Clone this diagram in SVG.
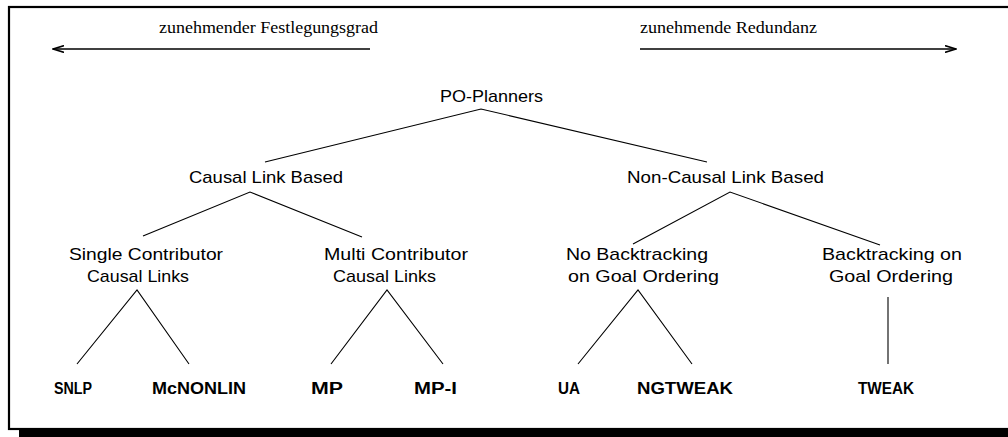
<svg xmlns="http://www.w3.org/2000/svg" width="1008" height="437" viewBox="0 0 1008 437">
  <style>
    .frame { fill: none; stroke: #000; stroke-width: 2.2; }
    .edge { stroke: #000; stroke-width: 1.1; fill: none; }
    .axis { stroke: #000; stroke-width: 1.6; fill: none; }
    .lbl { font-family: "Liberation Sans", Arial, sans-serif; font-size: 17px; fill: #000; text-anchor: start; }
    .leaf { font-family: "Liberation Sans", Arial, sans-serif; font-size: 16px; font-weight: bold; fill: #000; }
    .note { font-family: "Liberation Serif", "Times New Roman", serif; font-size: 16px; fill: #000; }
  </style>
  <defs>
    <marker id="head" viewBox="0 0 12 8" refX="11" refY="4" markerWidth="12" markerHeight="8" markerUnits="userSpaceOnUse" orient="auto">
      <polyline points="0,0.6 11,4 0,7.4" fill="none" stroke="#000" stroke-width="1.6"/>
    </marker>
  </defs>

  <rect x="0" y="0" width="1008" height="437" fill="#fff"/>

  <!-- page frame with drop shadow -->
  <g id="frame">
    <rect class="frame" x="9" y="7" width="1010" height="422"/>
    <rect x="19" y="430" width="1000" height="10" fill="#000"/>
  </g>

  <!-- direction axes -->
  <g id="axes">
    <line class="axis" x1="370" y1="49" x2="53" y2="49" marker-end="url(#head)"/>
    <line class="axis" x1="640" y1="49" x2="956" y2="49" marker-end="url(#head)"/>
    <text class="note" x="159" y="33" textLength="219" lengthAdjust="spacingAndGlyphs">zunehmender Festlegungsgrad</text>
    <text class="note" x="640" y="33" textLength="177" lengthAdjust="spacingAndGlyphs">zunehmende Redundanz</text>
  </g>

  <!-- connectors -->
  <g id="connectors">
    <polyline class="edge" points="265,162 481,109 707,162"/>
    <polyline class="edge" points="143,236 250,192 362,237"/>
    <polyline class="edge" points="633,244 730,192 880,245"/>
    <polyline class="edge" points="77,364 137,290 189,364"/>
    <polyline class="edge" points="331,364 387,290 443,364"/>
    <polyline class="edge" points="578,364 638,290 692,364"/>
    <line class="edge" x1="888" y1="297" x2="888" y2="364"/>
  </g>

  <g id="po-planners">
    <text class="lbl" x="440" y="102" textLength="103" lengthAdjust="spacingAndGlyphs">PO-Planners</text>
  </g>
  <g id="causal-link-based">
    <text class="lbl" x="189" y="183" textLength="154" lengthAdjust="spacingAndGlyphs">Causal Link Based</text>
  </g>
  <g id="non-causal-link-based">
    <text class="lbl" x="627" y="183" textLength="197" lengthAdjust="spacingAndGlyphs">Non-Causal Link Based</text>
  </g>
  <g id="single-contributor">
    <text class="lbl" x="69" y="260" textLength="154" lengthAdjust="spacingAndGlyphs">Single Contributor</text>
    <text class="lbl" x="87" y="282" textLength="102" lengthAdjust="spacingAndGlyphs">Causal Links</text>
  </g>
  <g id="multi-contributor">
    <text class="lbl" x="324" y="260" textLength="144" lengthAdjust="spacingAndGlyphs">Multi Contributor</text>
    <text class="lbl" x="333" y="282" textLength="103" lengthAdjust="spacingAndGlyphs">Causal Links</text>
  </g>
  <g id="no-backtracking">
    <text class="lbl" x="566" y="260" textLength="142" lengthAdjust="spacingAndGlyphs">No Backtracking</text>
    <text class="lbl" x="568" y="282" textLength="151" lengthAdjust="spacingAndGlyphs">on Goal Ordering</text>
  </g>
  <g id="backtracking">
    <text class="lbl" x="822" y="260" textLength="140" lengthAdjust="spacingAndGlyphs">Backtracking on</text>
    <text class="lbl" x="829" y="282" textLength="124" lengthAdjust="spacingAndGlyphs">Goal Ordering</text>
  </g>

  <g id="snlp"><text class="leaf" x="54" y="394" textLength="38" lengthAdjust="spacingAndGlyphs">SNLP</text></g>
  <g id="mcnonlin"><text class="leaf" x="152" y="394" textLength="94" lengthAdjust="spacingAndGlyphs">McNONLIN</text></g>
  <g id="mp"><text class="leaf" x="311" y="394" textLength="32" lengthAdjust="spacingAndGlyphs">MP</text></g>
  <g id="mp-i"><text class="leaf" x="414" y="394" textLength="43" lengthAdjust="spacingAndGlyphs">MP-I</text></g>
  <g id="ua"><text class="leaf" x="558" y="394" textLength="22" lengthAdjust="spacingAndGlyphs">UA</text></g>
  <g id="ngtweak"><text class="leaf" x="637" y="394" textLength="96" lengthAdjust="spacingAndGlyphs">NGTWEAK</text></g>
  <g id="tweak"><text class="leaf" x="858" y="394" textLength="56" lengthAdjust="spacingAndGlyphs">TWEAK</text></g>
</svg>
